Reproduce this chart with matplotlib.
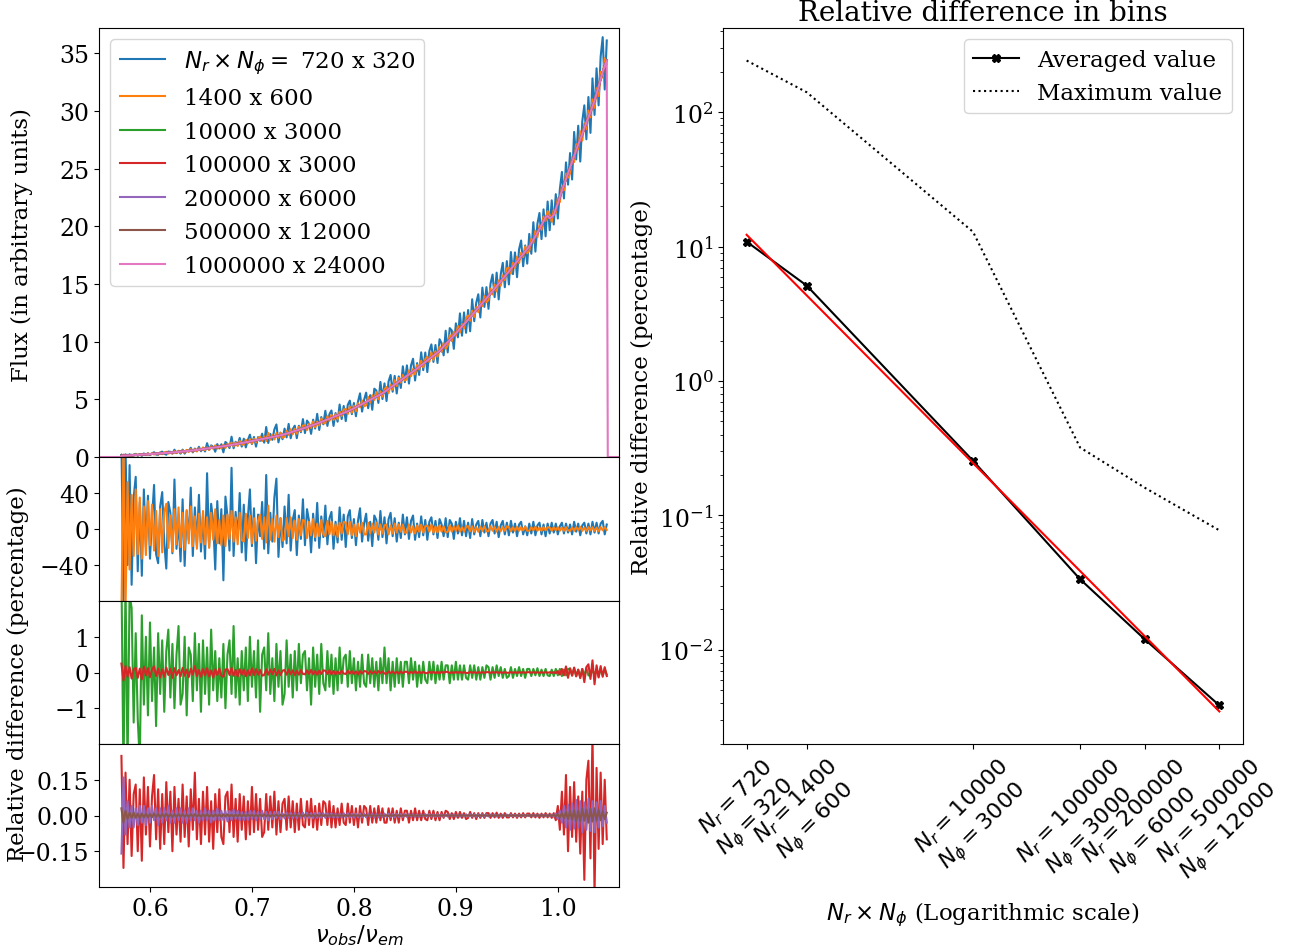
import numpy as np
import matplotlib
matplotlib.use("Agg")
import matplotlib.pyplot as plt
from matplotlib.ticker import NullLocator

plt.rcParams["font.family"] = "serif"
plt.rcParams["mathtext.fontset"] = "dejavusans"

# frequency bins (nu_obs / nu_em), 0.572 ... 1.048
nu = np.linspace(0.572, 1.048, 239)

# reference spectrum (finest grid 1000000 x 24000)
ref_flux = [
    0.10, 0.11, 0.12, 0.13, 0.14, 0.15, 0.16, 0.17, 0.18, 0.19, 0.20, 0.215, 0.23, 0.24, 0.25, 0.265, 0.28, 0.29, 0.30, 0.315,
    0.33, 0.34, 0.35, 0.365, 0.38, 0.395, 0.41, 0.425, 0.44, 0.46, 0.48, 0.495, 0.51, 0.53, 0.55, 0.57, 0.59, 0.615, 0.64, 0.665,
    0.69, 0.715, 0.74, 0.765, 0.79, 0.81, 0.83, 0.855, 0.88, 0.905, 0.93, 0.96, 0.99, 1.02, 1.05, 1.08, 1.11, 1.145, 1.18, 1.215,
    1.25, 1.28, 1.31, 1.345, 1.38, 1.415, 1.45, 1.485, 1.52, 1.555, 1.59, 1.625, 1.66, 1.695, 1.73, 1.77, 1.81, 1.845, 1.88, 1.925,
    1.97, 2.025, 2.08, 2.135, 2.19, 2.245, 2.30, 2.355, 2.41, 2.47, 2.53, 2.59, 2.65, 2.71, 2.77, 2.835, 2.90, 2.97, 3.04, 3.11,
    3.18, 3.25, 3.32, 3.39, 3.46, 3.53, 3.60, 3.67, 3.74, 3.815, 3.89, 3.965, 4.04, 4.13, 4.22, 4.31, 4.40, 4.49, 4.58, 4.675,
    4.77, 4.865, 4.96, 5.055, 5.15, 5.24, 5.33, 5.425, 5.52, 5.65, 5.78, 5.905, 6.03, 6.155, 6.28, 6.405, 6.53, 6.655, 6.78, 6.905,
    7.03, 7.155, 7.28, 7.41, 7.54, 7.68, 7.82, 7.96, 8.10, 8.235, 8.37, 8.505, 8.64, 8.775, 8.91, 9.055, 9.20, 9.39, 9.58, 9.775,
    9.97, 10.16, 10.35, 10.54, 10.73, 10.925, 11.12, 11.31, 11.50, 11.705, 11.91, 12.115, 12.32, 12.53, 12.74, 12.945, 13.15, 13.355, 13.56, 13.765,
    13.97, 14.175, 14.38, 14.59, 14.80, 15.015, 15.23, 15.445, 15.66, 15.875, 16.09, 16.305, 16.52, 16.735, 16.95, 17.165, 17.38, 17.595, 17.81, 18.03,
    18.25, 18.55, 18.85, 19.15, 19.45, 19.775, 20.10, 20.45, 20.80, 20.90, 20.70, 20.80, 21.00, 21.50, 22.00, 22.55, 23.10, 23.60, 24.10, 24.60,
    25.10, 25.60, 26.10, 26.60, 27.10, 27.55, 28.00, 28.50, 29.00, 29.45, 29.90, 30.40, 30.90, 31.50, 32.10, 32.75, 33.40, 33.90, 34.40,
]
# reference spectrum outside the emitting band
ref_left_nu = [0.54, 0.571]
ref_left = [0.0, 0.0]
ref_right_nu = [1.0485, 1.049, 1.07]
ref_right = [14.8, 0.0, 0.0]

# relative differences to the reference (percentage)
diff_720 = [
    98, -85, 92, -40, 71, -62, 35, 58, -47, 30,
    -52, 44, -20, 37, -33, 12, 49, -28, -38, 25,
    41, -15, -44, 30, 18, -27, 55, -22, 9, -36,
    33, -41, 20, -12, 46, -30, 24, -18, 38, -25,
    15, -33, 62, -20, 28, 8, -45, 31, -16, 22,
    -57, 36, 14, -24, 68, -30, 19, -11, 40, -26,
    27, -35, 12, 44, -19, 23, -38, 16, -8, 30,
    -22, 60, -27, 18, -14, 35, 56, -31, 12, -20,
    25, -16, 38, -24, 10, 21, -29, 15, -11, 33,
    -18, 22, 9, -26, 17, -13, 29, -21, 14, -9,
    26, -17, 12, 19, -22, 8, -15, 24, -12, 16,
    -20, 14, 21, -10, 11, -18, 9, 23, -14, 6,
    17, -13, 8, -19, 15, 10, -12, 20, -9, 13,
    -16, 11, 18, -8, 12, -14, 7, -10, 16, -6,
    13, -11, 9, 15, -12, 6, -9, 14, -7, 10,
    -12, 8, 13, -6, 9, -10, 11, 5, -8, 12,
    -9, 10, 6, -11, 8, -5, 12, -7, 9, -8,
    7, -10, 11, -6, 5, 9, -8, 10, -4, 7,
    -8, 6, 10, -5, 8, -9, 4, 9, -6, 7,
    -7, 9, -4, 6, -8, 5, 8, -6, 3, -7,
    6, -5, 8, -7, 4, 7, -6, 5, -8, 6,
    -5, 7, -4, 6, -6, 3, 7, -5, 6, -4,
    5, -6, 8, -3, 6, -7, 4, 7, -5, 6,
    -6, 8, -4, 7, -5, 6, 9, -6, 5,
]
diff_1400 = [
    -95, 95, -90, 52, -45, 38, -30, 44, -28, 35,
    -33, 25, -29, 31, -18, 27, -24, 20, -30, 22,
    -26, 19, 28, -21, 15, -25, 22, -17, 24, -20,
    18, -23, 21, -16, 25, -19, 14, -22, 17, -15,
    20, -17, 13, -21, 18, -12, 22, -16, 10, -18,
    15, -19, 16, -11, 20, -14, 13, -17, 18, -12,
    -14, 17, -10, 15, -16, 12, -13, 9, 16, -11,
    13, -15, 26, -12, 11, -14, 15, -9, 12, -13,
    -11, 12, -8, 13, -10, 9, -12, 11, -7, 10,
    9, -10, 8, -7, 11, -9, 6, -8, 10, -6,
    -8, 9, -6, 8, -7, 5, -9, 7, -5, 8,
    7, -6, 8, -7, 5, -8, 6, -4, 7, -6,
    -6, 7, -5, 6, -4, 7, -6, 5, -5, 4,
    5, -6, 4, -5, 6, -4, 5, -3, 5, -4,
    -4, 5, -4, 3, -5, 4, -3, 5, -4, 3,
    4, -3, 5, -4, 3, -4, 4, -3, 3, -4,
    -3, 4, -3, 3, -2, 4, -3, 2, -3, 3,
    3, -2.5, 3, -3, 2, -3, 2.5, -2, 3, -2.5,
    -2.5, 3, -2, 2.5, -3, 2, -2.5, 2, -2, 3,
    2, -2.5, 2, -2, 2.5, -2, 2, -1.5, 2.5, -2,
    -2, 2, -1.5, 2.5, -2, 1.5, -2, 2, -1.5, 2,
    1.5, -2, 2, -1.5, 2, -2, 1.5, -2, 2, -1.5,
    -2, 1.5, -2, 2, -1.5, 2.5, -2, 1.5, -2, 2,
    -1.5, 2, -2, 1.5, -2.5, 2, -1.5, 2, -1,
]
diff_10000 = [
    2.8, -2.9, 2.5, -2.6, 2.2, 1.8, -1.4, 1.1, -1.3, -2.5,
    1.6, -0.9, 1.0, -1.2, 1.4, -0.8, 0.7, -1.5, 1.1, -0.6,
    0.9, -1.1, 0.6, 1.2, -0.7, 0.8, -1.0, 0.5, 1.3, -0.9,
    -0.6, 1.0, -1.2, 0.7, 0.5, -0.8, 1.1, -0.5, 0.8, -1.1,
    0.9, -0.6, 0.7, -0.9, 1.2, -0.5, 0.6, -0.8, 0.4, -0.7,
    0.8, -1.0, 0.5, 0.9, -0.6, 1.3, -0.7, 0.4, -0.9, 0.6,
    -0.5, 0.7, -0.8, 1.0, -0.4, 0.6, -0.7, 0.9, -1.1, 0.5,
    0.7, -0.5, 1.1, -0.6, 0.4, -0.8, 0.8, -0.4, 0.6, -0.9,
    -0.6, 0.9, -0.4, 0.5, -0.7, 0.6, -0.5, 0.8, -0.3, 0.5,
    0.6, -0.5, 0.4, -0.9, 0.7, -0.4, 0.5, -0.6, 0.8, -0.3,
    -0.5, 0.6, -0.4, 0.5, -0.6, 0.4, -0.5, 0.7, -0.3, 0.4,
    0.5, -0.4, 0.6, -0.3, 0.4, -0.5, 0.3, -0.4, 0.5, -0.3,
    -0.4, 0.5, -0.3, 0.4, -0.4, 0.3, -0.5, 0.4, -0.3, 0.7,
    -0.3, 0.4, -0.5, 0.3, -0.4, 0.4, -0.3, 0.3, -0.4, 0.3,
    0.3, -0.3, 0.4, -0.2, 0.3, -0.4, 0.2, -0.3, 0.3, -0.2,
    -0.3, 0.3, -0.2, 0.3, -0.3, 0.2, -0.2, 0.3, -0.2, 0.2,
    0.2, -0.3, 0.2, -0.2, 0.3, -0.2, 0.2, -0.2, 0.2, -0.15,
    -0.2, 0.2, -0.15, 0.2, -0.2, 0.15, -0.2, 0.15, -0.15, 0.2,
    0.15, -0.2, 0.15, -0.15, 0.2, -0.1, 0.15, -0.15, 0.1, -0.15,
    -0.1, 0.15, -0.15, 0.1, -0.1, 0.15, -0.1, 0.1, -0.15, 0.1,
    0.1, -0.1, 0.1, -0.08, 0.12, -0.1, 0.08, -0.1, 0.1, -0.08,
    -0.1, 0.08, -0.1, 0.1, -0.08, 0.1, -0.1, 0.08, -0.08, 0.1,
    0.1, -0.08, 0.12, -0.1, 0.08, -0.12, 0.1, -0.1, 0.12, -0.08,
    -0.1, 0.12, -0.1, 0.1, -0.12, 0.1, -0.08, 0.1, -0.06,
]
diff_100000 = [
    0.25, -0.22, 0.18, -0.12, 0.15, -0.17, 0.09, 0.13, -0.15, 0.11,
    -0.19, 0.16, -0.08, 0.12, -0.13, 0.08, 0.17, -0.10, 0.11, -0.14,
    0.09, -0.12, 0.14, -0.07, 0.10, -0.15, 0.12, -0.08, 0.07, -0.11,
    0.13, -0.09, 0.08, -0.13, 0.11, -0.06, 0.18, -0.10, 0.07, -0.12,
    0.10, -0.08, 0.12, -0.11, 0.06, -0.14, 0.09, -0.07, 0.11, -0.09,
    -0.12, 0.08, 0.10, -0.07, 0.13, -0.09, 0.07, -0.11, 0.09, -0.06,
    0.08, -0.10, 0.06, -0.08, 0.12, -0.07, 0.09, -0.06, 0.07, -0.09,
    -0.07, 0.09, -0.06, 0.08, -0.05, 0.10, -0.08, 0.06, -0.07, 0.05,
    0.07, -0.06, 0.08, -0.05, 0.06, -0.07, 0.05, -0.06, 0.07, -0.04,
    -0.05, 0.06, -0.04, 0.07, -0.05, 0.04, -0.06, 0.05, -0.04, 0.06,
    0.05, -0.04, 0.06, -0.05, 0.04, -0.05, 0.03, -0.04, 0.05, -0.03,
    -0.04, 0.05, -0.03, 0.04, -0.04, 0.03, -0.05, 0.04, -0.03, 0.04,
    0.03, -0.04, 0.04, -0.03, 0.03, -0.03, 0.04, -0.02, 0.03, -0.03,
    -0.03, 0.03, -0.02, 0.03, -0.03, 0.02, -0.03, 0.03, -0.02, 0.02,
    0.02, -0.03, 0.02, -0.02, 0.03, -0.02, 0.02, -0.02, 0.02, -0.015,
    -0.02, 0.02, -0.015, 0.02, -0.02, 0.015, -0.02, 0.015, -0.01, 0.02,
    0.015, -0.015, 0.01, -0.015, 0.015, -0.01, 0.015, -0.01, 0.01, -0.015,
    -0.01, 0.015, -0.01, 0.01, -0.015, 0.01, -0.01, 0.01, -0.01, 0.01,
    0.01, -0.01, 0.01, -0.008, 0.012, -0.01, 0.008, -0.01, 0.01, -0.008,
    -0.008, 0.01, -0.008, 0.008, -0.01, 0.008, -0.008, 0.01, -0.008, 0.008,
    0.008, -0.008, 0.01, -0.008, 0.008, -0.01, 0.008, -0.008, 0.01, -0.008,
    0.008, -0.01, 0.01, -0.02, 0.04, -0.06, 0.10, -0.08, 0.17, -0.15,
    0.12, -0.09, 0.14, -0.11, 0.08, -0.16, 0.10, -0.27, 0.15, 0.23,
    -0.18, 0.34, -0.33, 0.20, -0.14, 0.18, -0.12, 0.15, -0.10,
]
diff_200000 = [
    -0.16, 0.16, -0.08, 0.06, -0.05, 0.04, -0.05, 0.03, -0.04, 0.04,
    -0.03, 0.04, -0.04, 0.03, -0.03, 0.04, -0.02, 0.03, -0.04, 0.03,
    -0.03, 0.03, -0.02, 0.04, -0.03, 0.02, -0.03, 0.03, -0.02, 0.03,
    -0.03, 0.02, -0.03, 0.03, -0.02, 0.03, -0.02, 0.02, -0.03, 0.02,
    -0.02, 0.03, -0.02, 0.02, -0.03, 0.02, -0.02, 0.03, -0.02, 0.02,
    -0.02, 0.02, -0.025, 0.02, -0.02, 0.025, -0.015, 0.02, -0.02, 0.015,
    -0.02, 0.015, -0.02, 0.02, -0.015, 0.02, -0.02, 0.015, -0.015, 0.02,
    -0.015, 0.015, -0.02, 0.015, -0.015, 0.015, -0.01, 0.015, -0.015, 0.01,
    -0.012, 0.012, -0.01, 0.012, -0.012, 0.01, -0.012, 0.01, -0.01, 0.012,
    -0.01, 0.012, -0.01, 0.01, -0.012, 0.01, -0.01, 0.012, -0.01, 0.01,
    -0.01, 0.01, -0.008, 0.01, -0.01, 0.008, -0.01, 0.008, -0.008, 0.01,
    -0.008, 0.01, -0.008, 0.008, -0.01, 0.008, -0.008, 0.008, -0.008, 0.008,
    -0.008, 0.008, -0.006, 0.008, -0.008, 0.006, -0.008, 0.006, -0.006, 0.008,
    -0.006, 0.008, -0.006, 0.006, -0.008, 0.006, -0.006, 0.006, -0.006, 0.006,
    -0.006, 0.006, -0.005, 0.006, -0.006, 0.005, -0.006, 0.005, -0.005, 0.006,
    -0.005, 0.006, -0.005, 0.005, -0.006, 0.005, -0.005, 0.005, -0.005, 0.005,
    -0.005, 0.005, -0.004, 0.005, -0.005, 0.004, -0.005, 0.004, -0.004, 0.005,
    -0.004, 0.005, -0.004, 0.004, -0.005, 0.004, -0.004, 0.004, -0.004, 0.004,
    -0.004, 0.004, -0.003, 0.004, -0.004, 0.003, -0.004, 0.003, -0.003, 0.004,
    -0.003, 0.004, -0.003, 0.003, -0.004, 0.003, -0.003, 0.003, -0.003, 0.003,
    -0.003, 0.003, -0.003, 0.003, -0.003, 0.003, -0.003, 0.003, -0.003, 0.003,
    -0.003, 0.004, -0.005, 0.008, -0.015, 0.02, -0.03, 0.04, -0.05, 0.045,
    -0.06, 0.05, -0.055, 0.065, -0.05, 0.06, -0.07, 0.055, -0.06, 0.07,
    -0.065, 0.06, -0.07, 0.055, -0.05, 0.06, -0.045, 0.04, -0.03,
]
diff_500000 = [
    0.03, -0.03, 0.02, -0.015, 0.012, -0.01, 0.012, -0.01, 0.008, -0.01,
    0.008, -0.008, 0.007, -0.008, 0.006, -0.007, 0.008, -0.006, 0.007, -0.008,
    0.007, -0.006, 0.008, -0.007, 0.006, -0.007, 0.006, -0.006, 0.007, -0.005,
    0.006, -0.006, 0.005, -0.006, 0.006, -0.005, 0.006, -0.005, 0.005, -0.006,
    0.005, -0.005, 0.006, -0.005, 0.004, -0.005, 0.005, -0.004, 0.005, -0.005,
    0.005, -0.004, 0.005, -0.004, 0.004, -0.005, 0.004, -0.004, 0.005, -0.004,
    0.004, -0.004, 0.004, -0.003, 0.004, -0.004, 0.003, -0.004, 0.004, -0.003,
    0.004, -0.003, 0.003, -0.004, 0.003, -0.003, 0.004, -0.003, 0.003, -0.003,
    0.003, -0.003, 0.003, -0.003, 0.003, -0.002, 0.003, -0.003, 0.002, -0.003,
    0.003, -0.002, 0.003, -0.002, 0.002, -0.003, 0.002, -0.002, 0.003, -0.002,
    0.002, -0.002, 0.002, -0.002, 0.003, -0.002, 0.002, -0.002, 0.002, -0.002,
    0.002, -0.002, 0.002, -0.001, 0.002, -0.002, 0.001, -0.002, 0.002, -0.001,
    0.002, -0.001, 0.002, -0.002, 0.001, -0.002, 0.002, -0.001, 0.001, -0.002,
    0.001, -0.002, 0.001, -0.001, 0.002, -0.001, 0.001, -0.002, 0.001, -0.001,
    0.001, -0.001, 0.002, -0.001, 0.001, -0.001, 0.001, -0.001, 0.002, -0.001,
    0.001, -0.001, 0.001, -0.001, 0.001, -0.001, 0.001, -0.001, 0.001, -0.001,
    0.001, -0.001, 0.001, -0.001, 0.001, -0.001, 0.001, -0.001, 0.001, -0.001,
    0.001, -0.001, 0.001, -0.001, 0.001, -0.001, 0.001, -0.001, 0.001, -0.001,
    0.001, -0.001, 0.001, -0.001, 0.001, -0.001, 0.001, -0.001, 0.001, -0.001,
    0.001, -0.001, 0.001, -0.001, 0.001, -0.001, 0.001, -0.001, 0.001, -0.001,
    0.001, -0.001, 0.001, -0.001, 0.001, -0.001, 0.001, -0.001, 0.001, -0.001,
    0.001, -0.001, 0.002, -0.003, 0.005, -0.008, 0.01, -0.012, 0.015, -0.015,
    0.02, -0.018, 0.022, -0.025, 0.02, -0.025, 0.03, -0.022, 0.025, -0.03,
    0.028, -0.025, 0.03, -0.022, 0.025, -0.02, 0.018, -0.015, 0.012,
]

series_labels = [r"$N_r \times N_\phi = $ 720 x 320", "1400 x 600", "10000 x 3000",
                 "100000 x 3000", "200000 x 6000", "500000 x 12000", "1000000 x 24000"]

# convergence study
N_r = [720, 1400, 10000, 100000, 200000, 500000]
N_phi = [320, 600, 3000, 3000, 6000, 12000]
avg_diff = [10.9, 5.13, 0.255, 0.0335, 0.0120, 0.00385]
max_diff = [243, 141, 12.9, 0.32, 0.161, 0.0774]

W, H = 1295, 953


def box(x0, y0, x1, y1):
    return [x0 / W, 1 - y1 / H, (x1 - x0) / W, (y1 - y0) / H]


fig = plt.figure(figsize=(W / 100, H / 100), dpi=100)
ax0 = fig.add_axes(box(99, 29, 619, 458))
ax1 = fig.add_axes(box(99, 458, 619, 602), sharex=ax0)
ax2 = fig.add_axes(box(99, 602, 619, 745), sharex=ax0)
ax3 = fig.add_axes(box(99, 745, 619, 888), sharex=ax0)
axr = fig.add_axes(box(723, 29, 1243, 745))

ref = np.array(ref_flux)
diffs = [diff_720, diff_1400, diff_10000, diff_100000, diff_200000, diff_500000]
for i, d in enumerate(diffs):
    ax0.plot(nu, ref * (1 + np.array(d) / 100), color=f"C{i}", label=series_labels[i])
ax0.plot(np.concatenate([ref_left_nu, nu, ref_right_nu]),
         np.concatenate([ref_left, ref, ref_right]), color="C6", label=series_labels[6])
ax0.set_ylim(0, 37.2)
ax0.set_yticks([0, 5, 10, 15, 20, 25, 30, 35])
ax0.legend(loc="upper left", fontsize=16.5)

ax1.plot(nu, diff_720, color="C0")
ax1.plot(nu, diff_1400, color="C1")
ax1.set_ylim(-80, 80)
ax1.set_yticks([-40, 0, 40])

ax2.plot(nu, diff_10000, color="C2")
ax2.plot(nu, diff_100000, color="C3")
ax2.set_ylim(-2, 2)
ax2.set_yticks([-1, 0, 1])

ax3.plot(nu, diff_100000, color="C3")
ax3.plot(nu, diff_200000, color="C4")
ax3.plot(nu, diff_500000, color="C5")
ax3.set_ylim(-0.3, 0.3)
ax3.set_yticks([-0.15, 0, 0.15])
ax3.set_yticklabels(["\u22120.15", "0.00", "0.15"])
ax3.set_xlim(0.55, 1.06)
ax3.set_xticks([0.6, 0.7, 0.8, 0.9, 1.0])
ax3.set_xlabel(r"$\nu_{obs}/\nu_{em}$", fontsize=16.5, labelpad=2)

for a in [ax0, ax1, ax2]:
    a.tick_params(axis="x", bottom=False, labelbottom=False)
for a in [ax0, ax1, ax2, ax3]:
    a.tick_params(labelsize=17)

fig.text(22 / W, 1 - 245 / H, "Flux (in arbitrary units)", rotation=90,
         ha="center", va="center", fontsize=16.5)
fig.text(18 / W, 1 - 674 / H, "Relative difference (percentage)", rotation=90,
         ha="center", va="center", fontsize=16.5)

# right panel
N_tot = np.array(N_r) * np.array(N_phi)
axr.loglog(N_tot, avg_diff, "k-X", ms=6, label="Averaged value")
axr.loglog(N_tot, max_diff, "k:", label="Maximum value")
coef = np.polyfit(np.log10(N_tot), np.log10(avg_diff), 1)
axr.loglog(N_tot[[0, -1]], 10 ** np.polyval(coef, np.log10(N_tot[[0, -1]])), color="red")
axr.set_xticks(N_tot)
axr.set_xticklabels([r"$N_r = %d$" "\n" r"$N_\phi = %d$" % (a, b) for a, b in zip(N_r, N_phi)],
                    rotation=45, fontsize=16)
axr.xaxis.set_minor_locator(NullLocator())
axr.tick_params(axis="y", labelsize=17)
axr.set_xlabel(r"$N_r \times N_\phi$ (Logarithmic scale)", fontsize=16.5, labelpad=8)
axr.set_ylabel("Relative difference (percentage)", fontsize=16.5)
axr.set_title("Relative difference in bins", fontsize=20)
axr.legend(loc="upper right", fontsize=16.5)

fig.savefig("out.png", dpi=100)
